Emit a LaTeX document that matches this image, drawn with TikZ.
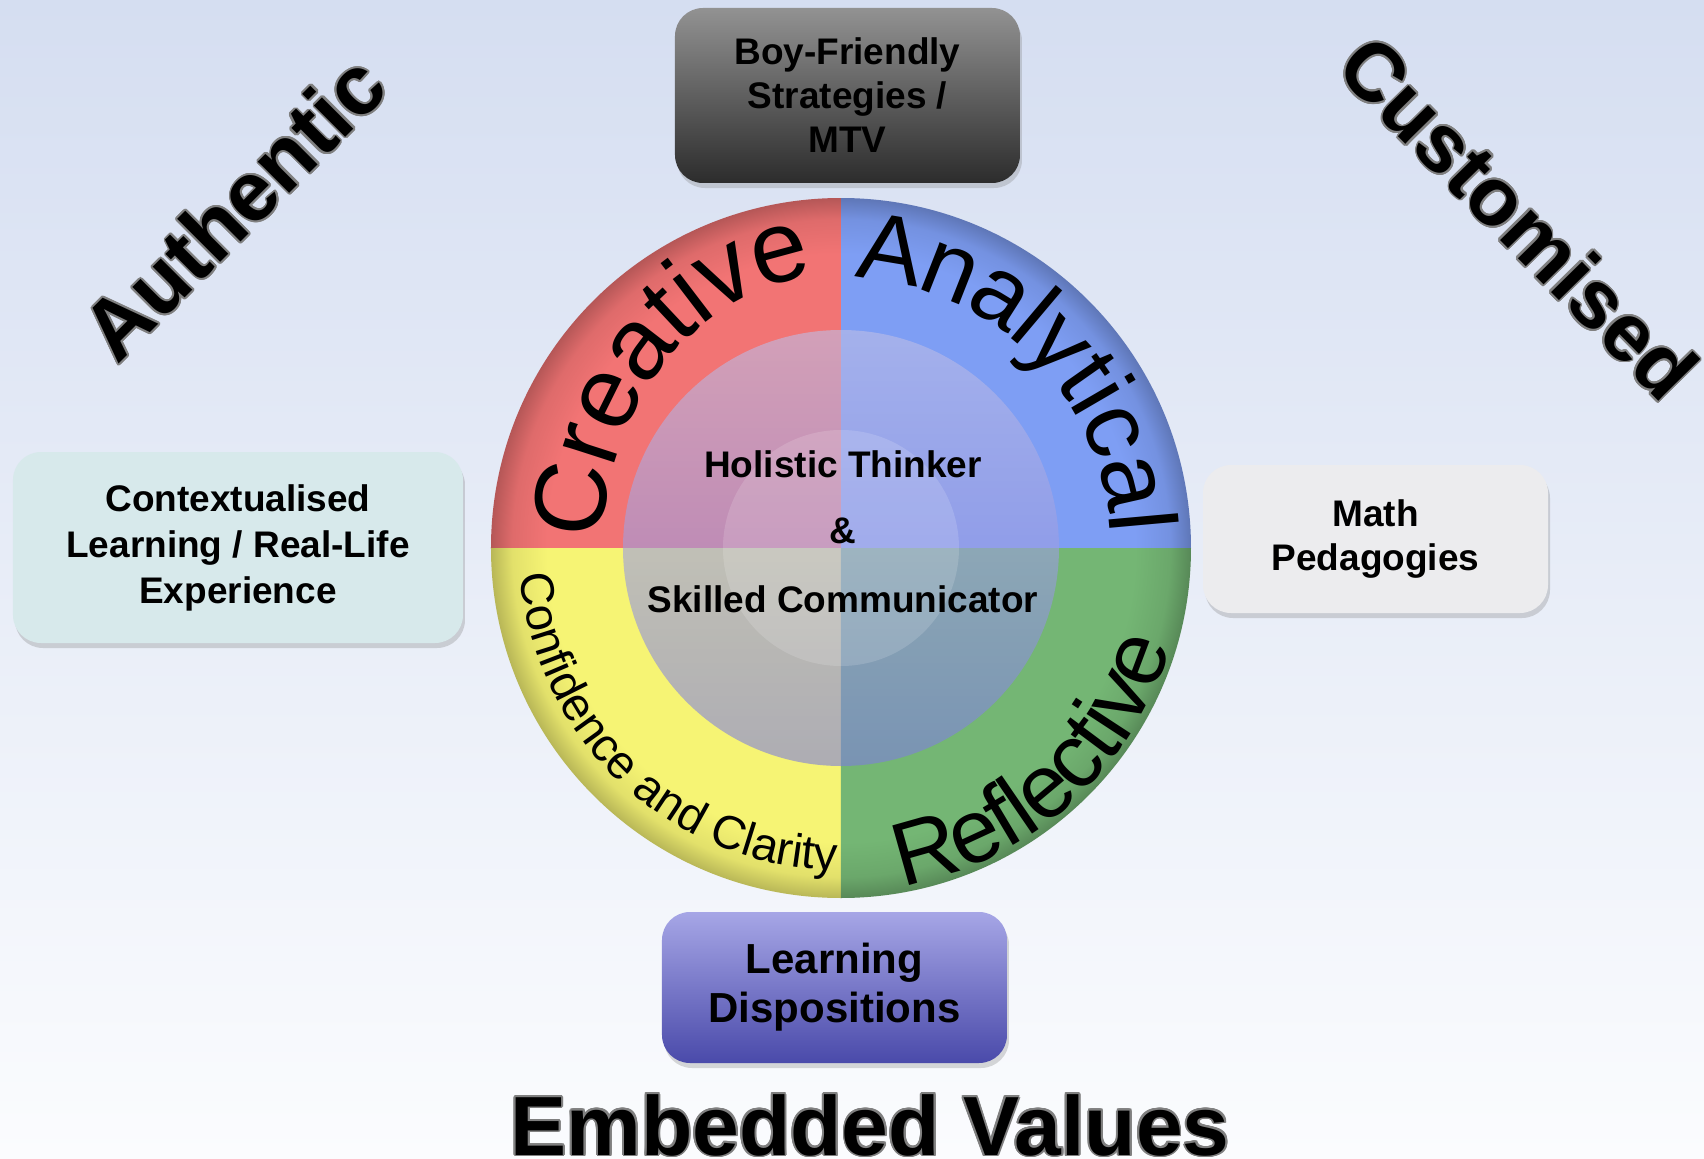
\documentclass[tikz,border=0pt]{standalone}
\usepackage{fontspec}
\setmainfont{Liberation Sans}
\usepackage{contour}
\usetikzlibrary{decorations.text,shadows}
\contourlength{0.9pt}
\contournumber{20}

\definecolor{bgtop}{HTML}{D5DEF1}
\definecolor{bgbottom}{HTML}{FBFCFE}
\definecolor{quadred}{HTML}{F27474}
\definecolor{quadblue}{HTML}{7E9EF4}
\definecolor{quadyellow}{HTML}{F6F474}
\definecolor{quadgreen}{HTML}{74B674}
\definecolor{overtop}{RGB}{190,190,230}
\definecolor{overmid}{RGB}{228,230,255}
\definecolor{overbot}{RGB}{125,125,222}
\definecolor{boytop}{HTML}{929292}
\definecolor{boybot}{HTML}{2C2C2C}
\definecolor{ctxfill}{HTML}{D7E9EB}
\definecolor{mathfill}{HTML}{ECECEE}
\definecolor{disptop}{HTML}{A6A6E6}
\definecolor{dispbot}{HTML}{4A4AAA}

\newcommand{\rimshading}[2]{\pgfdeclareradialshading{#1}{\pgfpoint{0bp}{0bp}}{color(0bp)=(#2); color(21bp)=(#2); color(23.5bp)=(#2!92!black); color(25bp)=(#2!75!black); color(50bp)=(#2!75!black)}}
\rimshading{rimred}{quadred}
\rimshading{rimblue}{quadblue}
\rimshading{rimyellow}{quadyellow}
\rimshading{rimgreen}{quadgreen}

\newcommand{\ringfont}{\fontsize{48}{56}\selectfont}
\newcommand{\ringsmall}{\fontsize{23.5}{28}\selectfont}

\begin{document}
\begin{tikzpicture}[x=1pt,y=1pt,
    box/.style={rounded corners=14pt,align=center,font=\fontsize{18.5}{22}\selectfont\bfseries,
      drop shadow={shadow xshift=1pt,shadow yshift=-2.5pt,opacity=0.3}},
    corner/.style={font=\fontsize{42}{48}\selectfont\bfseries},
    centre/.style={anchor=base,font=\fontsize{18.5}{22}\selectfont\bfseries}]
  \useasboundingbox (-420.5,-305) rectangle (431.5,274);
  \shade[top color=bgtop,bottom color=bgbottom] (-420.5,-305) rectangle (431.5,274);

  % ring of four quadrants
  \foreach \shd/\a in {rimblue/0,rimred/90,rimyellow/180,rimgreen/270}{
    \begin{scope}
      \clip (0,0) -- (\a:176) arc (\a:\a+90:176) -- cycle;
      \shade[shading=\shd] (0,0) circle (175);
    \end{scope}
  }
  \shade[top color=overtop,middle color=overmid,bottom color=overbot,fill opacity=0.6] (0,0) circle (109);
  \fill[white,fill opacity=0.15] (0,0) circle (59);

  \path[decorate,decoration={text along path,text align=center,raise=-5pt,text={|\fontsize{51}{60}\selectfont|Creative}}]
    (200:124 and 142) arc[start angle=200,end angle=72,x radius=124,y radius=142];
  \path[decorate,decoration={text along path,text align=center,raise=-5pt,text={|\ringfont|Analytical}}]
    (120:140) arc (120:-30:140);
  \path[decorate,decoration={text along path,text align=center,raise=8pt,text={|\fontsize{45}{54}\selectfont|Reflective}}]
    (-118:180) arc (-118:22:180);
  \path[decorate,decoration={text along path,text align=center,text={|\ringsmall|Confidence and Clarity}}]
    (150:161) arc (150:304:161);

  \node at (1,35.5) [centre] (holistic) {Holistic Thinker};
  \node at (1,2.5) [centre] (amp) {\&};
  \node at (1,-32) [centre] (skilled) {Skilled Communicator};

  \node at (3.25,226.25) [box,minimum width=172.5pt,minimum height=87.5pt,top color=boytop,bottom color=boybot] (boy) {Boy-Friendly\\Strategies /\\MTV};
  \node at (-301.5,0.25) [box,minimum width=225pt,minimum height=95.5pt,fill=ctxfill,font=\fontsize{18.5}{23}\selectfont\bfseries] (ctx) {Contextualised\\Learning / Real-Life\\Experience};
  \node at (267.25,4.5) [box,minimum width=172.5pt,minimum height=74pt,fill=mathfill] (math) {Math\\Pedagogies};
  \node at (-3.25,-219.75) [box,minimum width=172.5pt,minimum height=75.5pt,top color=disptop,bottom color=dispbot,font=\fontsize{21}{24.5}\selectfont\bfseries] (disp) {Learning\\Dispositions};

  \node at (-303.5,170) [corner,rotate=45] (authentic) {\contour{gray}{Authentic}};
  \node at (338.5,165) [corner,rotate=-45.5,font=\fontsize{41}{48}\selectfont\bfseries] (customised) {\contour{gray}{Customised}};
  \node at (14.5,-303.5) [corner,anchor=base] (values) {\contour{gray}{Embedded Values}};
\end{tikzpicture}
\end{document}
